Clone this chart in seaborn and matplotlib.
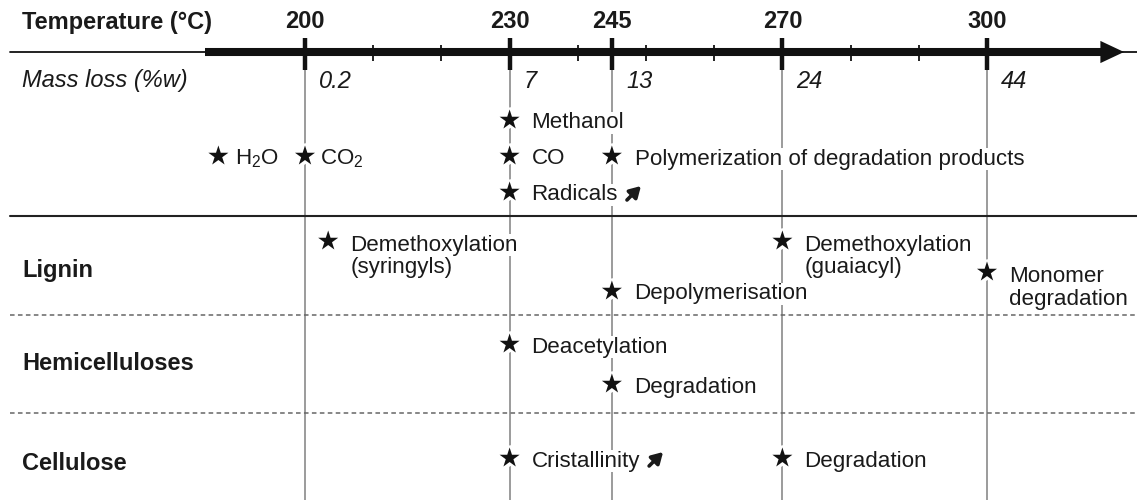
import matplotlib
matplotlib.use("Agg")
import matplotlib.pyplot as plt
from matplotlib.text import OffsetFrom
import numpy as np
import pandas as pd
import seaborn as sns

# ---------------- data ----------------
major_temps = [200, 230, 245, 270, 300]
major_labels = ["200", "230", "245", "270", "300"]
minor_temps = [210, 220, 240, 250, 260, 280, 290]
mass_loss = ["0.2", "7", "13", "24", "44"]

section_names = ["Lignin", "Hemicelluloses", "Cellulose"]

gas_labels = ["Methanol", "H$_{\\rm 2}$O", "CO$_{\\rm 2}$", "CO",
              "Polymerization of degradation products", "Radicals"]
gas_temps = [230, 187.3, 200, 230, 245, 230]
gas_trend = ["", "", "", "", "", "up"]

lignin_labels = ["Demethoxylation\n(syringyls)", "Depolymerisation",
                 "Demethoxylation\n(guaiacyl)", "Monomer\ndegradation"]
lignin_temps = [203.4, 245, 270, 300]

hemi_labels = ["Deacetylation", "Degradation"]
hemi_temps = [230, 245]

cell_labels = ["Cristallinity", "Degradation"]
cell_temps = [230, 270]
cell_trend = ["up", ""]

# ---------------- layout (pixels) ----------------
W, H = 1137, 500
PX_PER_DEG = 6.82
X_200 = 305
AXIS_Y = 52
gas_y = [120, 156, 192]          # row slots for gas events
gas_slot = [0, 1, 1, 1, 1, 2]
gas_dx = [22, 17, 15, 22, 23, 22]
lignin_y = [241, 291, 241, 272]
hemi_y = [344, 384]
cell_y = [458, 458]
section_label_y = [271, 364, 464]
sep_solid_y = 216
sep_dashed_y = [315, 413]
LINE_STEP = 23

def px2t(px):
    return 200 + (px - X_200) / PX_PER_DEG

sns.set_theme(style="white")
plt.rcParams["font.family"] = ["Liberation Sans", "DejaVu Sans"]
plt.rcParams["mathtext.fontset"] = "custom"
plt.rcParams["mathtext.rm"] = "Liberation Sans"
plt.rcParams["mathtext.it"] = "Liberation Sans:italic"

TXT = "#1a1a1a"
FS = 16.1
FSB = 17.0

fig = plt.figure(figsize=(W / 100, H / 100), dpi=100)
ax = fig.add_axes([0, 0, 1, 1])

# events table
rows = []
for lab, t, s, dx, tr in zip(gas_labels, gas_temps, gas_slot, gas_dx, gas_trend):
    rows.append(dict(label=lab, temp=t, y=gas_y[s], dx=dx, trend=tr))
for lab, t, y in zip(lignin_labels, lignin_temps, lignin_y):
    rows.append(dict(label=lab, temp=t, y=y, dx=22, trend=""))
for lab, t, y in zip(hemi_labels, hemi_temps, hemi_y):
    rows.append(dict(label=lab, temp=t, y=y, dx=22, trend=""))
for lab, t, y, tr in zip(cell_labels, cell_temps, cell_y, cell_trend):
    rows.append(dict(label=lab, temp=t, y=y, dx=22, trend=tr))
events = pd.DataFrame(rows)

# vertical guide lines
for t in major_temps:
    ax.plot([t, t], [68, H], color="#8a8a8a", lw=1.2, zorder=1, solid_capstyle="butt")

# temperature axis
ax.plot([px2t(10), px2t(W)], [AXIS_Y, AXIS_Y], color="#111111", lw=1.3, zorder=2)
ax.plot([px2t(205), px2t(1104)], [AXIS_Y, AXIS_Y], color="#111111", lw=5.8,
        zorder=3, solid_capstyle="butt")
ax.annotate("", xy=(px2t(1124), AXIS_Y), xytext=(px2t(1095), AXIS_Y),
            arrowprops=dict(arrowstyle="-|>,head_length=17,head_width=8",
                            mutation_scale=1, lw=0, fc="#111111", ec="none",
                            shrinkA=0, shrinkB=0),
            zorder=3)
for t in major_temps:
    ax.plot([t, t], [38, 70], color="#111111", lw=3.2, zorder=4, solid_capstyle="butt")
for t in minor_temps:
    ax.plot([t, t], [45, 61], color="#111111", lw=1.3, zorder=4, solid_capstyle="butt")

ax.text(px2t(22), 22, "Temperature (°C)", fontsize=FSB, fontweight="bold",
        ha="left", va="center", color=TXT)
for t, lab in zip(major_temps, major_labels):
    ax.text(t, 22, lab, fontsize=FSB, fontweight="bold", ha="center", va="center", color=TXT)

ax.text(px2t(22), 81, "Mass loss (%w)", fontsize=FSB, fontstyle="italic",
        ha="left", va="center", color=TXT)
for t, m in zip(major_temps, mass_loss):
    ax.annotate(m, xy=(t, 81), xytext=(14, 0), textcoords="offset pixels",
                fontsize=FSB, fontstyle="italic", ha="left", va="center", color=TXT)

# separators
ax.plot([px2t(10), px2t(W)], [sep_solid_y, sep_solid_y], color="#222222", lw=1.5, zorder=2)
for y in sep_dashed_y:
    ax.plot([px2t(10), px2t(W)], [y, y], color="#666666", lw=1.1,
            dashes=(3, 2.2), zorder=2)

for name, y in zip(section_names, section_label_y):
    ax.text(px2t(22), y, name, fontsize=FSB, fontweight="bold", ha="left",
            va="center", color=TXT)

# stars: white halo then black star
sns.scatterplot(data=events, x="temp", y="y", marker="*", s=230, color="white",
                edgecolor="white", linewidth=4, legend=False, ax=ax, zorder=6)
sns.scatterplot(data=events, x="temp", y="y", marker="*", s=230, color="#111111",
                edgecolor="none", linewidth=0, legend=False, ax=ax, zorder=7)

# event labels (one text per line so the white backing hugs each line)
for _, r in events.iterrows():
    lines = r["label"].split("\n")
    multi = len(lines) > 1
    t = None
    for i, line in enumerate(lines):
        dy = -(4 + LINE_STEP * i) if multi else -3
        t = ax.annotate(line, xy=(r["temp"], r["y"]), xytext=(r["dx"], dy),
                        textcoords="offset pixels", fontsize=FS, ha="left",
                        va="center", color=TXT, zorder=5,
                        bbox=dict(fc="white", ec="none", pad=0.5))
    if r["trend"] == "up":
        ref = OffsetFrom(t, (1.0, 0.5), unit="pixels")
        ax.annotate("", xy=(23, 9), xycoords=ref, xytext=(9, -5), textcoords=ref,
                    arrowprops=dict(arrowstyle="-|>,head_length=6.5,head_width=3.8",
                                    mutation_scale=1, lw=2.6, color=TXT,
                                    shrinkA=0, shrinkB=0),
                    zorder=5)

ax.set_xlim(px2t(0), px2t(W))
ax.set_ylim(H, 0)
ax.axis("off")

fig.savefig("out.png", dpi=100)
